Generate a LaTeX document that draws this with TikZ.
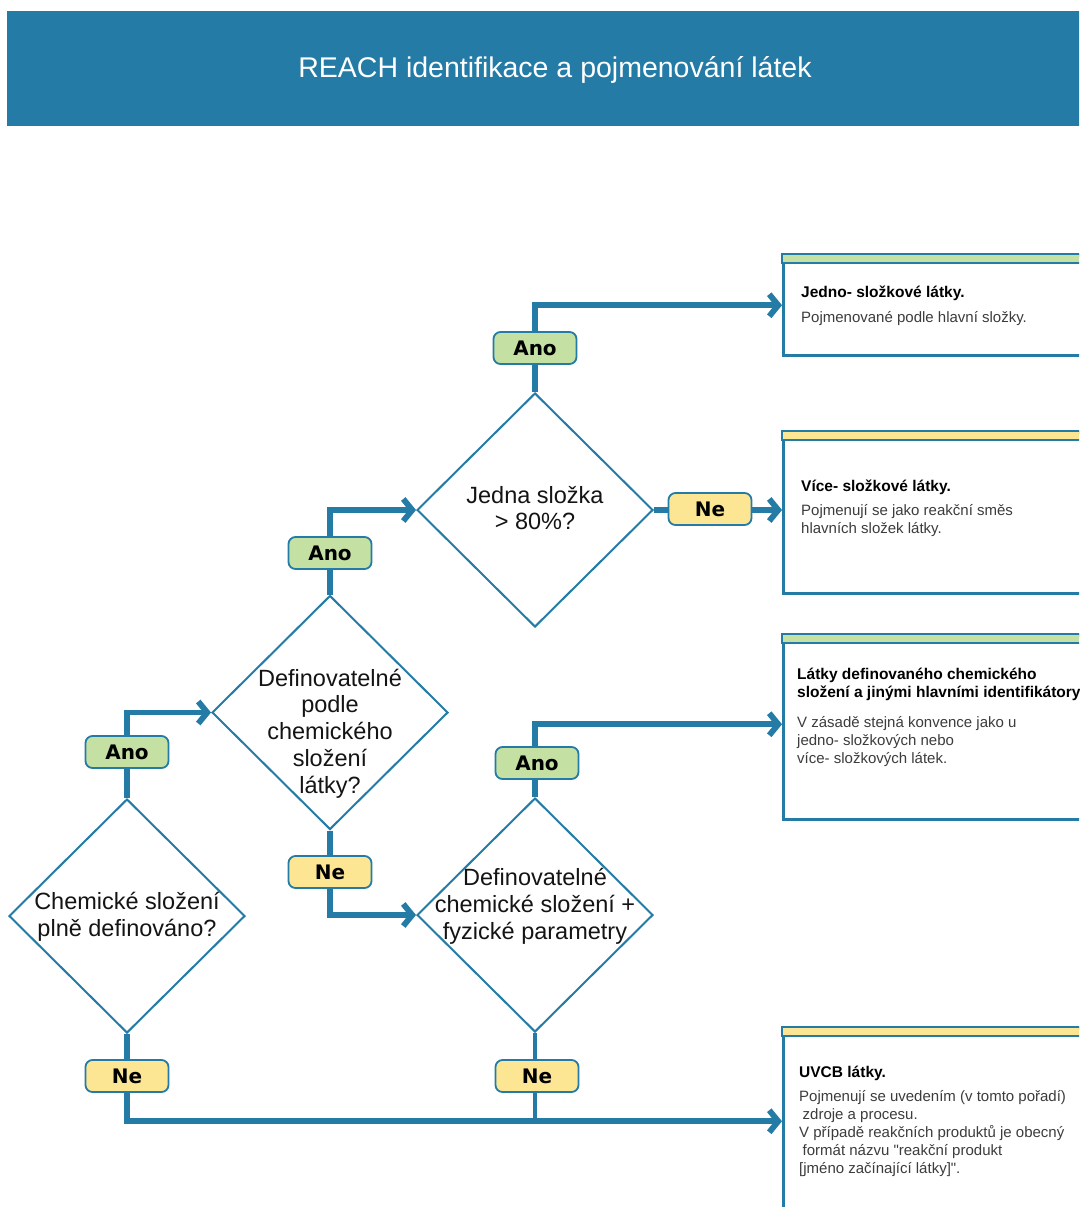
\documentclass[tikz,border=0pt]{standalone}
\usepackage{fontspec}
\setmainfont{Liberation Sans}
\newfontfamily\pillfont{DejaVu Sans}
\newfontfamily\qfont{Liberation Sans}
\usetikzlibrary{shapes.geometric,arrows.meta}
\definecolor{rblue}{RGB}{36,124,166}
\definecolor{pgreen}{RGB}{197,224,163}
\definecolor{pyellow}{RGB}{252,230,148}
\definecolor{btext}{RGB}{60,60,60}
\definecolor{dtext}{RGB}{20,20,20}
\newcommand{\rtitle}[1]{{\fontsize{15.5}{18}\selectfont\bfseries\color{black}#1}}
\newcommand{\sq}{{\qfont\symbol{34}}}
\tikzset{
  decision/.style={diamond, draw=rblue, line width=2pt, fill=white, minimum width=236, minimum height=234, inner sep=0pt},
  dlabel/.style={align=center, text=dtext, font=\fontsize{23.5}{26.8}\selectfont, inner sep=0pt},
  conn/.style={draw=rblue, line width=5.8pt, line join=miter, -{Straight Barb[length=9pt,width=22pt]}},
  connthin/.style={draw=rblue, line width=3.5pt},
  pill/.style={draw=rblue, line width=1.8pt, rounded corners=7pt, minimum width=83, minimum height=32, inner sep=0pt, font=\pillfont\bfseries\fontsize{20}{24}\selectfont},
  anopill/.style={pill, fill=pgreen},
  nepill/.style={pill, fill=pyellow},
  resbox/.style={draw=rblue, line width=2.5pt, fill=white, anchor=north west, minimum width=330, inner sep=0pt},
  restext/.style={anchor=north west, align=left, inner sep=0pt, font=\fontsize{15}{18}\selectfont, text=btext}
}
\begin{document}
\begin{tikzpicture}[x=1pt,y=-1pt]
\useasboundingbox (0,0) rectangle (1079,1207);
\clip (0,0) rectangle (1079,1207);
\fill[white] (0,0) rectangle (1079,1207);
% title bar
\node[fill=rblue, anchor=north west, minimum width=1080, minimum height=115, inner sep=0pt] (titlebar) at (7,11) {};
\node[text=white, font=\fontsize{28.5}{34}\selectfont, inner sep=0pt] (titletext) at (555,70) {REACH identifikace a pojmenování látek};
% decisions
\node[decision] (D1) at (127,916) {};
\node[decision] (D2) at (330,712.5) {};
\node[decision] (D3) at (535,510) {};
\node[decision] (D4) at (535,915) {};
\node[dlabel] (T1) at (127,917) {Chemické složení\\plně definováno?};
\node[dlabel] (T2) at (330,733.5) {Definovatelné\\podle\\chemického\\složení\\látky?};
\node[dlabel] (T3) at (535,508) {Jedna složka\\> 80\%?};
\node[dlabel] (T4) at (535,906) {Definovatelné\\chemické složení +\\fyzické parametry};
% result boxes
\node[resbox, minimum height=100] (B1) at (782,254) {};
\node[resbox, minimum height=161] (B2) at (782,431) {};
\node[resbox, minimum height=184] (B3) at (782,634) {};
\node[resbox, minimum height=186] (B4) at (782,1027) {};
\draw[rblue, line width=2.5pt, fill=pgreen] (B1.north west) rectangle ([yshift=-9pt]B1.north east);
\draw[rblue, line width=2.5pt, fill=pyellow] (B2.north west) rectangle ([yshift=-9pt]B2.north east);
\draw[rblue, line width=2.5pt, fill=pgreen] (B3.north west) rectangle ([yshift=-9pt]B3.north east);
\draw[rblue, line width=2.5pt, fill=pyellow] (B4.north west) rectangle ([yshift=-9pt]B4.north east);
\node[restext] (R1) at (801,284.4) {\strut\rtitle{Jedno- složkové látky.}\\[7pt]
Pojmenované podle hlavní složky.};
\node[restext] (R2) at (801,478.4) {\strut\rtitle{Více- složkové látky.}\\[6pt]
Pojmenují se jako reakční směs\\hlavních složek látky.};
\node[restext] (R3) at (797,666.4) {\strut\rtitle{Látky definovaného chemického}\\\rtitle{složení a jinými hlavními identifikátory}\\[12pt]
V zásadě stejná konvence jako u\\jedno- složkových nebo\\více- složkových látek.};
\node[restext] (R4) at (799,1064.4) {\strut\rtitle{UVCB látky.}\\[6pt]
Pojmenují se uvedením (v tomto pořadí)\\\hspace*{3.5pt}zdroje a procesu.\\V případě reakčních produktů je obecný\\\hspace*{3.5pt}formát názvu \sq reakční produkt\\{[}jméno začínající látky{]}\sq.};
% connectors
\draw[conn] (D1.north) |- (D2.west);
\draw[conn] (D2.north) |- (D3.west);
\draw[conn] (D3.north) |- (B1.west);
\draw[conn] (D3.east) -- (D3.east -| B2.west);
\draw[conn] (D2.south) |- (D4.west);
\draw[conn] (D4.north) |- ([yshift=3pt]B3.west);
\draw[connthin] (D4.south) -- (D4.south |- B4.west);
\draw[conn] (D1.south) |- (B4.west);
% answer pills
\node[anopill] (A1) at (127,752) {Ano};
\node[nepill] (N1) at (127,1076) {Ne};
\node[anopill] (A2) at (330,553) {Ano};
\node[nepill] (N2) at (330,872) {Ne};
\node[anopill] (A3) at (535,348) {Ano};
\node[nepill] (N3) at (710,509) {Ne};
\node[anopill] (A4) at (537,763) {Ano};
\node[nepill] (N4) at (537,1076) {Ne};
\end{tikzpicture}
\end{document}
